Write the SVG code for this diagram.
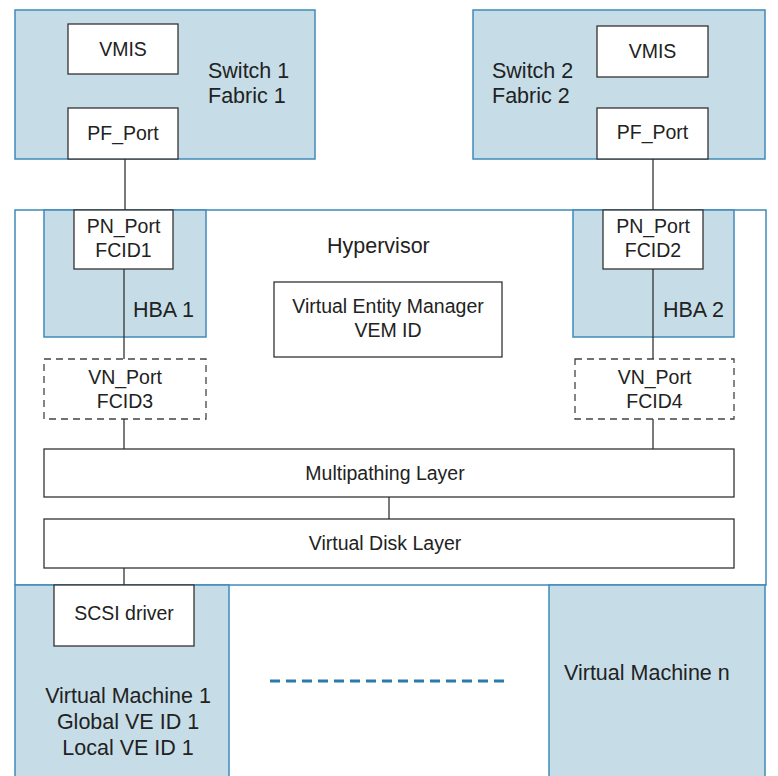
<svg xmlns="http://www.w3.org/2000/svg" width="778" height="776" viewBox="0 0 778 776">
<style>
.bg{fill:#c6dde8;stroke:#3f8bb9;stroke-width:1.5}
.hv{fill:#ffffff;stroke:#3f8bb9;stroke-width:1.5}
.bx{fill:#ffffff;stroke:#333333;stroke-width:1.3}
.dbx{fill:#ffffff;stroke:#444444;stroke-width:1.3;stroke-dasharray:7 5}
.ln{stroke:#333333;stroke-width:1.3;fill:none}
text{font-family:"Liberation Sans",Arial,sans-serif;fill:#222222}
.s{font-size:19.5px}
.l{font-size:21.5px}
.m{text-anchor:middle}
</style>
<rect width="778" height="776" fill="#ffffff"/>
<g id="hypervisor">
<rect class="hv" x="15" y="210" width="751" height="375"/>
<text class="l" x="327" y="253">Hypervisor</text>
</g>
<g id="switch1">
<rect class="bg" x="15" y="10" width="300" height="149"/>
<text class="l" x="208" y="78">Switch 1</text>
<text class="l" x="208" y="103">Fabric 1</text>
</g>
<g id="vmis1"><rect class="bx" x="68" y="24" width="110" height="50"/><text class="s m" x="123" y="56">VMIS</text></g>
<g id="pfport1"><rect class="bx" x="68" y="108" width="110" height="51"/><text class="s m" x="123" y="140">PF_Port</text></g>
<g id="switch2">
<rect class="bg" x="473" y="10" width="292" height="149"/>
<text class="l" x="492" y="78">Switch 2</text>
<text class="l" x="492" y="103">Fabric 2</text>
</g>
<g id="vmis2"><rect class="bx" x="597" y="26" width="111" height="51"/><text class="s m" x="652.5" y="58">VMIS</text></g>
<g id="pfport2"><rect class="bx" x="597" y="108" width="111" height="51"/><text class="s m" x="652.5" y="139">PF_Port</text></g>
<g id="hba1">
<rect class="bg" x="44" y="210" width="162" height="127"/>
<text class="l" x="133" y="317">HBA 1</text>
</g>
<g id="pnport1"><rect class="bx" x="74" y="210" width="99" height="59"/><text class="s m" x="123.5" y="233">PN_Port</text><text class="s m" x="123.5" y="257">FCID1</text></g>
<g id="hba2">
<rect class="bg" x="573" y="210" width="161" height="127"/>
<text class="l" x="663" y="317">HBA 2</text>
</g>
<g id="pnport2"><rect class="bx" x="603" y="210" width="100" height="59"/><text class="s m" x="653" y="233">PN_Port</text><text class="s m" x="653" y="257">FCID2</text></g>
<g id="vem"><rect class="bx" x="274" y="282" width="228" height="75"/><text class="s m" x="388" y="313">Virtual Entity Manager</text><text class="s m" x="388" y="337">VEM ID</text></g>
<g id="vnport3"><rect class="dbx" x="44" y="359" width="162" height="60"/><text class="s m" x="125" y="384">VN_Port</text><text class="s m" x="125" y="408">FCID3</text></g>
<g id="vnport4"><rect class="dbx" x="575" y="359" width="159" height="60"/><text class="s m" x="654.5" y="384">VN_Port</text><text class="s m" x="654.5" y="408">FCID4</text></g>
<g id="multipathing"><rect class="bx" x="44" y="449" width="690" height="48"/><text class="s m" x="385" y="480">Multipathing Layer</text></g>
<g id="virtualdisk"><rect class="bx" x="44" y="519" width="690" height="49"/><text class="s m" x="385" y="550">Virtual Disk Layer</text></g>
<g id="vm1">
<rect class="bg" x="15" y="585" width="214" height="195"/>
<text class="l m" x="128" y="703">Virtual Machine 1</text>
<text class="l m" x="128" y="729">Global VE ID 1</text>
<text class="l m" x="128" y="755">Local VE ID 1</text>
</g>
<g id="scsi"><rect class="bx" x="54" y="585" width="140" height="61"/><text class="s m" x="124" y="620">SCSI driver</text></g>
<g id="vmn">
<rect class="bg" x="549" y="585" width="216" height="195"/>
<text class="l" x="564" y="680">Virtual Machine n</text>
</g>
<g id="connectors">
<line class="ln" x1="125" y1="159" x2="125" y2="210"/>
<line class="ln" x1="653" y1="159" x2="653" y2="210"/>
<line class="ln" x1="124" y1="269" x2="124" y2="359"/>
<line class="ln" x1="653" y1="269" x2="653" y2="359"/>
<line class="ln" x1="124" y1="419" x2="124" y2="449"/>
<line class="ln" x1="653" y1="419" x2="653" y2="449"/>
<line class="ln" x1="389" y1="497" x2="389" y2="519"/>
<line class="ln" x1="124" y1="568" x2="124" y2="585"/>
<line x1="270" y1="681" x2="507" y2="681" stroke="#2a7aab" stroke-width="3" stroke-dasharray="10 6"/>
</g>
</svg>
